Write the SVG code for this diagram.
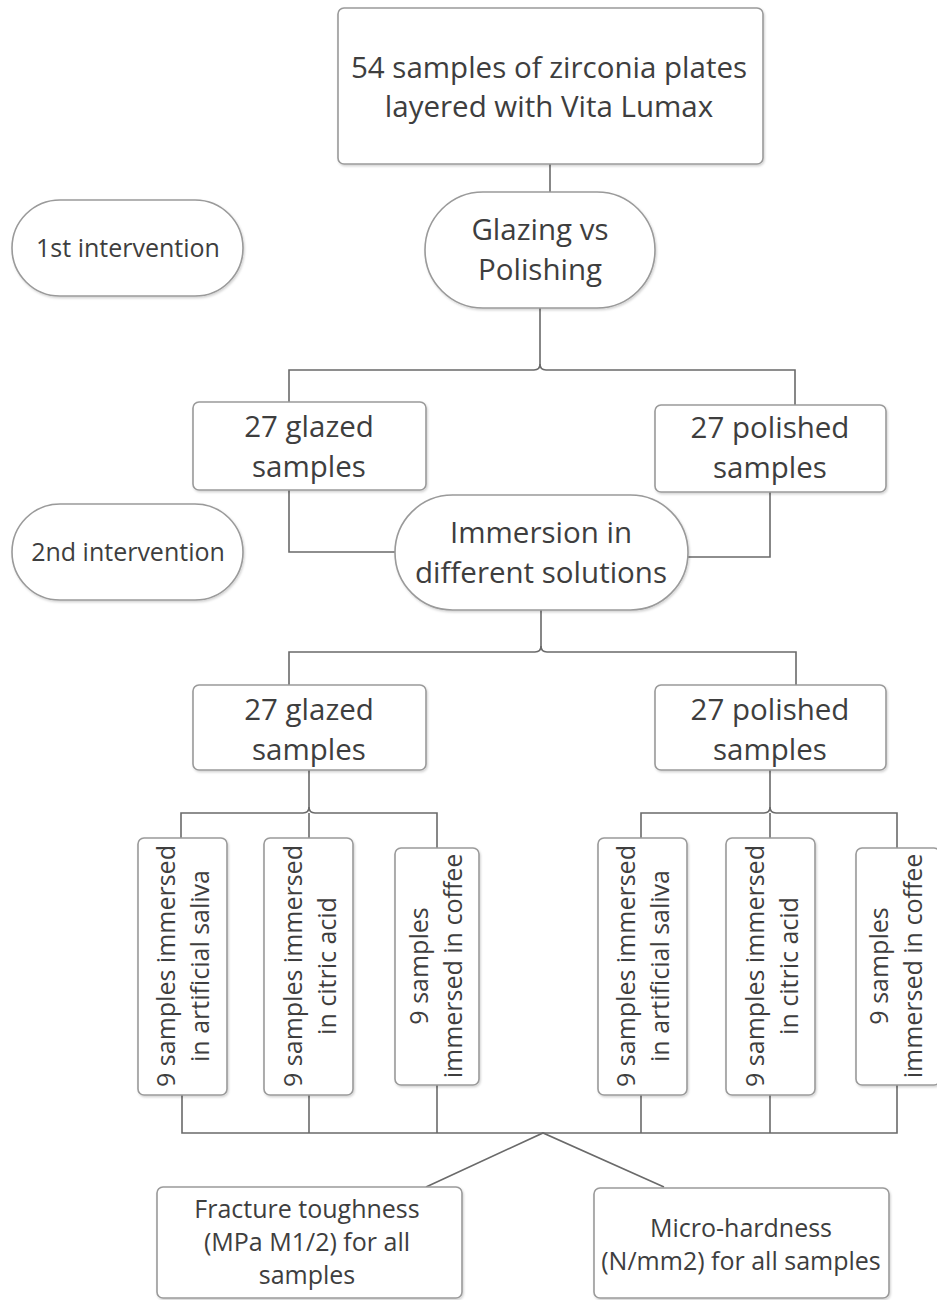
<svg xmlns="http://www.w3.org/2000/svg" width="937" height="1300" viewBox="0 0 937 1300">
<style>
.box{fill:#fff;stroke:#9a9a9a;stroke-width:1.6;filter:url(#sh)}
.t{font-family:"Open Sans","Noto Sans","Liberation Sans",sans-serif;fill:#3e3e3e;text-anchor:middle}
.big{font-size:29.5px}
.sm{font-size:25px}
.c{fill:none;stroke:#6a6a6a;stroke-width:1.6}
</style>
<defs>
<filter id="sh" x="-10%" y="-10%" width="120%" height="120%">
<feDropShadow dx="1" dy="1.5" stdDeviation="1" flood-color="#000" flood-opacity="0.18"/>
</filter>
</defs>
<rect width="937" height="1300" fill="#fff"/>
<g id="connectors">
<path class="c" d="M550,164 V192"/>
<path class="c" d="M540,308 V364 Q540,370 534,370 H289 V402"/>
<path class="c" d="M540,364 Q540,370 546,370 H795 V405"/>
<path class="c" d="M289,490 V552 H395"/>
<path class="c" d="M770,492 V557 H688"/>
<path class="c" d="M541,610 V646 Q541,652 535,652 H289 V685"/>
<path class="c" d="M541,646 Q541,652 547,652 H796 V685"/>
<path class="c" d="M309,770 V807 Q309,813 303,813 H181 V838"/>
<path class="c" d="M309,807 Q309,813 315,813 H437 V848"/>
<path class="c" d="M309,813 V838"/>
<path class="c" d="M770,770 V807 Q770,813 764,813 H641 V838"/>
<path class="c" d="M770,807 Q770,813 776,813 H897 V848"/>
<path class="c" d="M770,813 V838"/>
<path class="c" d="M182,1095 V1133 H897 V1085"/>
<path class="c" d="M309,1095 V1133"/>
<path class="c" d="M437,1085 V1133"/>
<path class="c" d="M641,1095 V1133"/>
<path class="c" d="M770,1095 V1133"/>
<path class="c" d="M426,1187 L543,1133 L664,1187"/>
</g>
<g id="n-top">
<rect class="box" x="338" y="8" width="425" height="156" rx="6"/>
<text class="t big" x="549" y="78">54 samples of zirconia plates</text>
<text class="t big" x="549" y="117">layered with Vita Lumax</text>
</g>
<g id="n-glazing">
<rect class="box" x="425" y="192" width="230" height="116" rx="58"/>
<text class="t big" x="540" y="240">Glazing vs</text>
<text class="t big" x="540" y="280">Polishing</text>
</g>
<g id="n-int1">
<rect class="box" x="12" y="200" width="231" height="96" rx="48"/>
<text class="t sm" x="128" y="257">1st intervention</text>
</g>
<g id="n-int2">
<rect class="box" x="12" y="504" width="231" height="96" rx="48"/>
<text class="t sm" x="128" y="561">2nd intervention</text>
</g>
<g id="n-glazed1">
<rect class="box" x="193" y="402" width="233" height="88" rx="6"/>
<text class="t big" x="309" y="437">27 glazed</text>
<text class="t big" x="309" y="477">samples</text>
</g>
<g id="n-polished1">
<rect class="box" x="655" y="405" width="231" height="87" rx="6"/>
<text class="t big" x="770" y="438">27 polished</text>
<text class="t big" x="770" y="478">samples</text>
</g>
<g id="n-immersion">
<rect class="box" x="395" y="495" width="293" height="115" rx="57.5"/>
<text class="t big" x="541" y="543">Immersion in</text>
<text class="t big" x="541" y="583">different solutions</text>
</g>
<g id="n-glazed2">
<rect class="box" x="193" y="685" width="233" height="85" rx="6"/>
<text class="t big" x="309" y="720">27 glazed</text>
<text class="t big" x="309" y="760">samples</text>
</g>
<g id="n-polished2">
<rect class="box" x="655" y="685" width="231" height="85" rx="6"/>
<text class="t big" x="770" y="720">27 polished</text>
<text class="t big" x="770" y="760">samples</text>
</g>
<g id="n-g-saliva">
<rect class="box" x="138" y="838" width="89" height="257" rx="6"/>
<g transform="translate(182.5,966) rotate(-90)">
<text class="t sm" x="0" y="-7.5">9 samples immersed</text>
<text class="t sm" x="0" y="26.5">in artificial saliva</text>
</g>
</g>
<g id="n-g-citric">
<rect class="box" x="264" y="838" width="89" height="257" rx="6"/>
<g transform="translate(308.5,966) rotate(-90)">
<text class="t sm" x="0" y="-6.5">9 samples immersed</text>
<text class="t sm" x="0" y="27.5">in citric acid</text>
</g>
</g>
<g id="n-g-coffee">
<rect class="box" x="395" y="848" width="84" height="237" rx="6"/>
<g transform="translate(437,966) rotate(-90)">
<text class="t sm" x="0" y="-9">9 samples</text>
<text class="t sm" x="0" y="25">immersed in coffee</text>
</g>
</g>
<g id="n-p-saliva">
<rect class="box" x="598" y="838" width="89" height="257" rx="6"/>
<g transform="translate(642.5,966) rotate(-90)">
<text class="t sm" x="0" y="-7.5">9 samples immersed</text>
<text class="t sm" x="0" y="26.5">in artificial saliva</text>
</g>
</g>
<g id="n-p-citric">
<rect class="box" x="726" y="838" width="89" height="257" rx="6"/>
<g transform="translate(770.5,966) rotate(-90)">
<text class="t sm" x="0" y="-6.5">9 samples immersed</text>
<text class="t sm" x="0" y="27.5">in citric acid</text>
</g>
</g>
<g id="n-p-coffee">
<rect class="box" x="856" y="848" width="84" height="237" rx="6"/>
<g transform="translate(897,966) rotate(-90)">
<text class="t sm" x="0" y="-9">9 samples</text>
<text class="t sm" x="0" y="25">immersed in coffee</text>
</g>
</g>
<g id="n-fracture">
<rect class="box" x="157" y="1187" width="305" height="111" rx="6"/>
<text class="t sm" x="307" y="1218">Fracture toughness</text>
<text class="t sm" x="307" y="1251">(MPa M1/2) for all</text>
<text class="t sm" x="307" y="1284">samples</text>
</g>
<g id="n-micro">
<rect class="box" x="594" y="1188" width="295" height="110" rx="6"/>
<text class="t sm" x="741" y="1237">Micro-hardness</text>
<text class="t sm" x="741" y="1270">(N/mm2) for all samples</text>
</g>
</svg>
